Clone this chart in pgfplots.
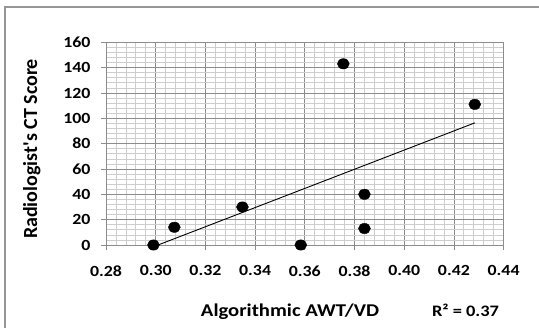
\documentclass[border=0pt]{standalone}
\usepackage{pgfplots}
\pgfplotsset{compat=1.18}
\usepackage{fontspec}
\setmainfont{Carlito}
\newfontfamily\stretchfont{Carlito}[FakeStretch=1.15]
\definecolor{majgrid}{RGB}{140,140,140}
\definecolor{mingrid}{RGB}{205,205,205}
\definecolor{framec}{RGB}{150,150,150}
\begin{document}
\begin{tikzpicture}
\path[use as bounding box] (0,0) rectangle (539bp,328bp);
\draw[framec, line width=1.2bp] (5bp,-2bp) -- (5bp,321bp) -- (541bp,321bp);
\begin{axis}[
  at={(106bp,83bp)}, anchor=south west,
  scale only axis, width=397.6bp, height=202.7bp,
  xmin=0.28, xmax=0.44, ymin=0, ymax=160,
  xtick={0.28,0.30,0.32,0.34,0.36,0.38,0.40,0.42,0.44},
  ytick={0,20,40,60,80,100,120,140,160},
  minor x tick num=4, minor y tick num=4,
  grid=both,
  major grid style={draw=majgrid, line width=0.7bp},
  minor grid style={draw=mingrid, line width=0.7bp},
  axis line style={draw=majgrid, line width=0.8bp},
  tick style={draw=majgrid, line width=0.8bp},
  tick align=outside, major tick length=5bp, minor tick length=0pt,
  xtick pos=left, ytick pos=left,
  /pgf/number format/assume math mode=true,
  xticklabel style={/pgf/number format/.cd, fixed, fixed zerofill, precision=2, /tikz/.cd, yshift=-12bp},
  yticklabel style={xshift=-7bp},
  ticklabel style={font=\stretchfont\bfseries\fontsize{15.5bp}{16bp}\selectfont},
  clip=false,
]
\addplot[only marks, mark=*, mark size=5.2bp, mark options={xscale=1.15, fill=black, draw=black}]
coordinates {
(0.2991,0) (0.3075,14) (0.3349,30) (0.3584,0) (0.3840,40) (0.3840,13) (0.3755,143) (0.4284,111)
};
\addplot[black, line width=0.9bp] coordinates {(0.2991,-1.4) (0.4284,96.4)};
\end{axis}
\node[font=\stretchfont\bfseries\fontsize{18bp}{20bp}\selectfont] at (290bp,16.3bp) {Algorithmic AWT/VD};
\node[rotate=90, font=\bfseries\fontsize{20bp}{22bp}\selectfont] at (31.7bp,179bp) {Radiologist\textquotesingle s CT Score};
\node[font=\stretchfont\bfseries\fontsize{16bp}{18bp}\selectfont] at (465.5bp,18bp) {R² = 0.37};
\end{tikzpicture}
\end{document}
